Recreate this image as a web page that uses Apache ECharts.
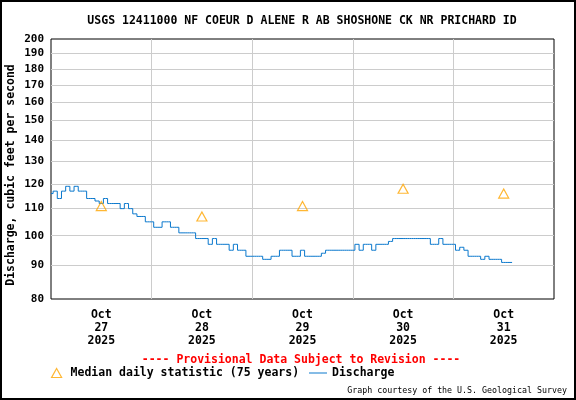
<!DOCTYPE html>
<html><head><meta charset="utf-8">
<script src="https://cdn.jsdelivr.net/npm/echarts@6/dist/echarts.min.js"></script>
<style>html,body{margin:0;padding:0;background:#fff}#c{width:576px;height:400px}</style>
</head><body><div id="c"></div>
<script>
const titleText = 'USGS 12411000 NF COEUR D ALENE R AB SHOSHONE CK NR PRICHARD ID';
const yName = 'Discharge, cubic feet per second';
const provText = '---- Provisional Data Subject to Revision ----';
const courtesyText = 'Graph courtesy of the U.S. Geological Survey';
const medianName = 'Median daily statistic (75 years)';
const dischargeName = 'Discharge';

// y ticks (cfs, log scale)
const yTicks = [80, 90, 100, 110, 120, 130, 140, 150, 160, 170, 180, 190, 200];
// x axis in hours since Oct 27 2025 00:00
const dayBoundaryHours = [0, 24, 48, 72, 96, 120];
const labelHours = [12, 36, 60, 84, 108];
const xTickLabels = ['Oct\n27\n2025', 'Oct\n28\n2025', 'Oct\n29\n2025', 'Oct\n30\n2025', 'Oct\n31\n2025'];

// median daily statistic, at noon of each day
const medianHours = [12, 36, 60, 84, 108];
const medianValues = [111, 107, 111, 118, 116];

// hourly discharge from Oct 27 00:00
const discharge = [
  116,117,114,117,119,117,119,117,117,114,114,113,112,114,112,112,112,110,112,110,108,107,107,105,
  105,103,103,105,105,103,103,101,101,101,101,99,99,99,97,99,97,97,97,95,97,95,95,93,
  93,93,93,92,92,93,93,95,95,95,93,93,95,93,93,93,93,94,95,95,95,95,95,95,
  95,97,95,97,97,95,97,97,97,98,99,99,99,99,99,99,99,99,99,97,97,99,97,97,
  97,95,96,95,93,93,93,92,93,92,92,92,91,91,91
];

const F = "'DejaVu Sans Mono', monospace";
const legendText = {fontFamily: F, fontWeight: 'bold', fontSize: 11.5, color: '#000'};
const chart = echarts.init(document.getElementById('c'), null, {renderer: 'canvas'});
const option = {
  animation: false,
  backgroundColor: '#fff',
  grid: {left: 51, right: 22, top: 39, bottom: 101, outerBoundsMode: 'none', containLabel: false,
         show: true, borderColor: '#000', borderWidth: 1, backgroundColor: 'transparent'},
  xAxis: {
    type: 'value', min: 0, max: 120,
    axisLine: {show: false},
    axisTick: {show: false, customValues: dayBoundaryHours},
    splitLine: {show: true, showMinLine: false, showMaxLine: false, lineStyle: {color: '#cccccc', width: 1}},
    axisLabel: {
      customValues: labelHours,
      formatter: v => xTickLabels[labelHours.indexOf(v)] || '',
      fontFamily: F, fontWeight: 'bold', fontSize: 11.5, lineHeight: 13.3, color: '#000', margin: 9
    }
  },
  yAxis: {
    type: 'log', logBase: 10, min: 80, max: 200,
    axisLine: {show: false},
    axisTick: {show: false, customValues: yTicks},
    splitLine: {show: true, showMinLine: false, showMaxLine: false, lineStyle: {color: '#cccccc', width: 1}},
    axisLabel: {customValues: yTicks, fontFamily: F, fontWeight: 'bold', fontSize: 11, color: '#000', margin: 7}
  },
  legend: [
    {
      left: 51, top: 367, padding: 0, itemWidth: 10, itemHeight: 9,
      textStyle: Object.assign({padding: [0, 0, 0, 4]}, legendText),
      itemStyle: {color: 'rgba(0,0,0,0)', borderColor: '#ffa500', borderWidth: 1.2},
      data: [{name: medianName, icon: 'triangle'}]
    },
    {
      left: 309, top: 367, padding: 0, itemWidth: 18, itemHeight: 1,
      textStyle: legendText,
      data: [{name: dischargeName, icon: 'rect'}]
    }
  ],
  series: [
    {
      name: dischargeName, type: 'line', step: 'middle', symbol: 'none',
      data: discharge.map((v, i) => [i, v]),
      lineStyle: {color: '#0a78cd', width: 1}, itemStyle: {color: '#0a78cd'}, z: 3
    },
    {
      name: medianName, type: 'scatter', symbol: 'triangle', symbolSize: [10, 9],
      data: medianHours.map((h, i) => [h, medianValues[i]]),
      itemStyle: {color: 'rgba(0,0,0,0)', borderColor: '#ffa500', borderWidth: 1.2}, z: 4
    }
  ],
  graphic: [
    {type: 'rect', silent: true, z: 100, shape: {x: 1, y: 1, width: 574, height: 398}, style: {fill: 'none', stroke: '#000', lineWidth: 2}},
    {type: 'text', x: 302, y: 21, style: {text: titleText, font: "bold 11.5px " + F, fill: '#000', textAlign: 'center', textVerticalAlign: 'middle'}},
    {type: 'text', x: 11, y: 175, rotation: Math.PI / 2, style: {text: yName, font: "bold 11.5px " + F, fill: '#000', textAlign: 'center', textVerticalAlign: 'middle'}},
    {type: 'text', x: 301, y: 360.5, style: {text: provText, font: "bold 11.5px " + F, fill: '#ff0000', textAlign: 'center', textVerticalAlign: 'middle'}},
    {type: 'text', x: 567, y: 391, style: {text: courtesyText, font: "8.3px " + F, fill: '#000', textAlign: 'right', textVerticalAlign: 'middle'}}
  ]
};
chart.setOption(option);
</script></body></html>
